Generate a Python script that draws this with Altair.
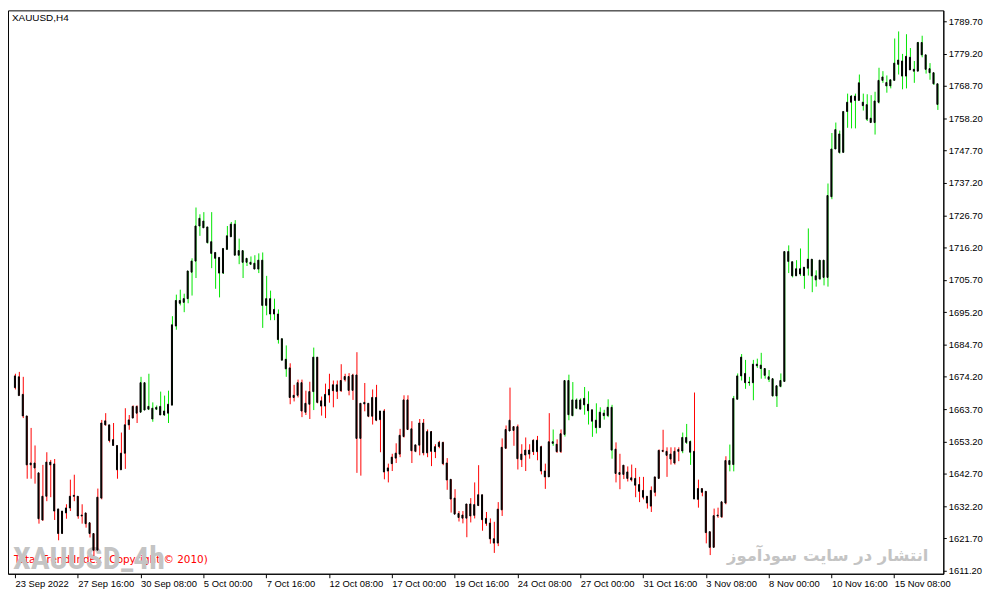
import json
import pandas as pd
import altair as alt

# ---------------- data ----------------
open_ = [1670.7,1674.2,1668.5,1661.5,1645.6,1646.2,1643.0,1627.7,1635.4,1646.5,
1645.9,1631.3,1623.3,1630.0,1631.6,1635.4,1635.4,1629.0,1630.0,1626.8,
1623.3,1617.9,1634.8,1658.6,1658.6,1653.8,1651.9,1644.0,1649.4,1658.6,
1660.8,1664.6,1662.7,1672.3,1663.7,1664.0,1663.7,1664.6,1661.8,1662.4,
1665.0,1690.7,1699.0,1698.4,1699.6,1708.2,1711.8,1723.2,1724.8,1722.9,
1718.1,1714.6,1713.0,1707.9,1715.6,1719.7,1723.8,1713.7,1715.2,1711.4,
1711.4,1711.1,1709.2,1712.1,1697.4,1699.6,1694.6,1694.6,1686.6,1679.9,
1677.1,1667.5,1668.2,1672.3,1662.7,1665.3,1669.4,1680.6,1666.4,1664.7,
1668.3,1669.7,1671.6,1669.7,1673.3,1674.3,1669.8,1674.8,1654.2,1665.4,
1665.6,1661.4,1667.5,1660.3,1663.1,1643.6,1646.0,1647.8,1649.1,1654.8,
1666.7,1657.3,1650.0,1652.0,1659.2,1649.5,1656.4,1649.9,1651.6,1652.9,
1646.2,1640.9,1634.8,1629.8,1628.3,1628.3,1632.9,1629.2,1632.4,1635.9,
1628.2,1626.7,1621.6,1620.2,1631.0,1651.0,1656.6,1658.0,1658.0,1647.3,
1648.8,1650.4,1649.9,1653.6,1651.5,1643.6,1641.7,1653.1,1652.3,1649.9,
1655.5,1673.0,1661.6,1666.7,1663.7,1667.2,1665.3,1663.5,1660.1,1657.7,
1662.4,1661.6,1664.3,1650.7,1643.1,1642.5,1643.3,1641.4,1641.2,1639.2,
1637.3,1635.4,1632.2,1636.7,1641.2,1650.3,1650.0,1649.1,1646.2,1650.0,
1650.1,1654.5,1653.2,1650.0,1634.4,1637.9,1637.0,1623.9,1618.8,1629.0,
1628.7,1633.2,1647.0,1645.7,1666.9,1674.5,1675.3,1672.3,1672.3,1678.3,
1678.0,1676.9,1674.2,1673.6,1668.0,1671.1,1672.7,1714.9,1711.6,1707.0,
1709.3,1707.1,1709.5,1712.4,1707.0,1706.0,1712.1,1706.5,1732.7,1748.2,
1753.1,1747.1,1760.4,1763.4,1765.4,1764.0,1763.4,1762.6,1758.2,1756.8,
1763.4,1770.5,1769.8,1768.7,1770.5,1775.7,1776.8,1771.9,1778.0,1773.5,
1773.5,1782.8,1778.8,1774.3,1773.0,1769.4]

high = [1675.2,1675.8,1674.2,1661.5,1657.6,1651.9,1643.0,1645.6,1649.7,1647.2,
1647.5,1631.3,1630.6,1632.8,1640.8,1642.4,1635.4,1632.8,1630.0,1626.8,
1623.3,1637.9,1660.2,1662.4,1658.6,1659.2,1651.9,1656.1,1664.0,1661.8,
1664.9,1664.9,1674.2,1672.3,1675.2,1665.9,1664.9,1669.4,1668.1,1669.7,
1693.9,1700.9,1702.5,1701.2,1708.6,1712.7,1729.2,1727.0,1727.7,1722.9,
1727.7,1714.6,1713.0,1715.9,1723.2,1724.5,1725.1,1719.1,1715.2,1712.7,
1713.3,1713.7,1714.3,1714.6,1707.0,1702.2,1699.6,1696.1,1686.6,1684.4,
1678.6,1671.6,1673.3,1673.3,1669.7,1672.6,1683.7,1680.6,1667.8,1672.0,
1675.2,1673.0,1673.0,1678.3,1675.2,1675.4,1675.2,1682.2,1665.6,1672.2,
1665.6,1670.1,1671.6,1663.1,1663.7,1646.0,1649.2,1652.6,1657.3,1668.2,
1668.2,1659.8,1652.1,1660.5,1660.5,1657.1,1656.6,1652.3,1653.4,1653.1,
1647.8,1640.9,1637.7,1630.6,1630.6,1632.9,1634.8,1639.9,1645.5,1635.9,
1630.3,1628.2,1627.1,1633.5,1654.2,1658.4,1670.7,1658.2,1658.7,1652.3,
1654.5,1652.3,1653.9,1655.0,1651.8,1646.0,1662.4,1657.1,1653.9,1657.1,
1673.0,1674.9,1672.5,1667.2,1667.2,1670.9,1669.5,1663.5,1665.6,1664.3,
1663.5,1666.9,1665.1,1652.9,1649.2,1645.5,1645.1,1645.7,1644.6,1641.7,
1641.7,1635.4,1638.6,1641.7,1650.6,1657.0,1651.3,1651.3,1651.3,1651.3,
1656.1,1658.9,1653.5,1669.1,1640.8,1637.9,1637.0,1623.9,1631.4,1631.7,
1633.6,1648.4,1652.2,1668.0,1675.3,1681.6,1679.7,1674.2,1679.7,1680.1,
1682.0,1676.9,1676.4,1673.6,1671.3,1675.3,1714.9,1716.9,1711.6,1712.1,
1715.9,1709.8,1722.4,1712.4,1708.8,1712.1,1712.1,1737.0,1753.4,1756.8,
1754.2,1760.4,1766.2,1765.7,1766.2,1772.4,1766.2,1766.0,1765.7,1766.8,
1774.6,1773.5,1772.1,1770.7,1784.1,1786.4,1779.1,1785.5,1781.0,1776.8,
1783.0,1785.0,1778.8,1776.1,1773.0,1769.4]

low = [1670.1,1668.1,1660.8,1641.1,1641.1,1639.5,1626.5,1627.4,1633.8,1635.1,
1627.7,1621.1,1623.3,1628.1,1630.6,1633.8,1628.1,1626.5,1625.2,1622.0,
1616.0,1617.9,1634.4,1658.3,1652.9,1651.9,1641.1,1644.0,1644.3,1657.0,
1660.8,1659.2,1662.7,1663.4,1663.4,1659.6,1663.4,1661.8,1661.5,1659.2,
1665.0,1689.5,1697.4,1695.2,1698.1,1700.6,1706.3,1720.0,1722.6,1717.5,
1709.5,1702.8,1700.0,1707.6,1715.6,1719.7,1713.7,1710.8,1706.3,1710.2,
1710.5,1709.2,1707.9,1690.1,1694.2,1692.6,1692.6,1685.0,1679.6,1674.2,
1665.3,1666.2,1667.5,1661.1,1661.8,1660.5,1663.4,1665.6,1661.6,1660.8,
1665.8,1664.3,1667.0,1669.3,1672.7,1668.2,1666.7,1643.0,1642.1,1663.0,
1661.1,1658.7,1659.8,1649.7,1640.9,1639.9,1643.6,1646.2,1648.1,1654.5,
1656.9,1646.2,1649.7,1648.7,1648.7,1648.1,1645.2,1647.8,1651.0,1645.5,
1637.5,1630.1,1629.6,1627.2,1626.6,1622.1,1626.9,1628.2,1632.2,1624.2,
1625.8,1620.0,1617.0,1619.2,1629.0,1650.8,1656.6,1651.8,1644.1,1644.9,
1643.6,1647.6,1648.8,1647.1,1642.5,1637.8,1641.7,1651.8,1649.5,1649.5,
1654.8,1660.1,1661.4,1663.7,1663.7,1661.9,1658.7,1654.7,1655.8,1657.7,
1660.3,1661.1,1647.6,1639.9,1637.7,1641.0,1640.2,1640.2,1635.1,1633.5,
1634.4,1631.4,1630.3,1635.4,1641.2,1649.7,1641.7,1645.7,1645.7,1646.8,
1649.4,1652.4,1645.6,1634.5,1631.7,1635.4,1620.1,1616.3,1618.8,1628.4,
1628.4,1632.8,1643.5,1643.5,1666.9,1673.0,1670.3,1671.3,1666.6,1677.1,
1673.6,1673.6,1672.5,1667.8,1664.4,1670.8,1672.7,1707.9,1706.5,1707.0,
1707.0,1702.8,1707.1,1701.7,1703.5,1705.7,1703.9,1703.5,1731.9,1748.2,
1746.7,1747.1,1755.1,1754.9,1754.9,1764.0,1760.7,1757.3,1756.8,1752.9,
1763.0,1769.7,1766.5,1767.9,1770.5,1772.4,1767.6,1767.9,1773.9,1769.7,
1773.5,1778.0,1772.7,1770.7,1769.0,1760.9]

close = [1674.5,1668.1,1661.5,1645.6,1646.2,1644.6,1628.1,1635.4,1646.5,1645.6,
1630.6,1623.3,1630.6,1631.6,1635.4,1635.7,1629.0,1629.3,1626.5,1623.3,
1617.9,1635.1,1659.2,1659.9,1653.5,1651.9,1644.0,1649.4,1658.6,1660.2,
1664.6,1662.4,1672.3,1663.4,1664.6,1660.5,1664.3,1661.8,1663.1,1665.3,
1691.1,1699.0,1698.1,1699.6,1708.6,1711.8,1723.2,1725.7,1722.6,1717.8,
1714.3,1712.7,1707.9,1715.9,1720.0,1723.8,1713.7,1715.2,1711.4,1712.7,
1710.8,1709.2,1712.1,1697.4,1699.6,1694.6,1696.1,1686.3,1679.6,1676.8,
1667.5,1668.2,1672.3,1663.1,1665.6,1669.4,1680.6,1665.9,1664.7,1668.5,
1670.1,1671.6,1669.5,1673.0,1674.3,1669.8,1674.8,1654.2,1665.6,1665.9,
1661.4,1667.5,1660.1,1663.1,1643.3,1644.6,1648.1,1649.4,1655.2,1666.7,
1657.1,1650.2,1652.1,1659.2,1649.5,1656.4,1650.0,1651.5,1652.9,1646.0,
1640.7,1634.5,1629.6,1628.5,1629.3,1632.9,1629.0,1632.7,1635.9,1627.8,
1626.6,1621.6,1620.2,1631.2,1651.3,1657.1,1660.1,1656.8,1647.6,1649.1,
1650.4,1649.1,1653.6,1649.9,1643.6,1641.7,1653.1,1652.6,1649.9,1655.7,
1673.0,1661.9,1666.7,1664.0,1666.7,1665.1,1663.2,1659.8,1657.7,1662.7,
1661.6,1664.3,1650.4,1642.8,1642.5,1645.5,1641.2,1640.7,1639.0,1637.0,
1635.1,1633.2,1637.3,1641.7,1650.3,1650.0,1648.7,1647.5,1650.0,1650.6,
1654.5,1652.9,1649.7,1634.5,1637.9,1636.7,1623.6,1618.8,1629.1,1629.3,
1633.6,1647.0,1645.7,1667.2,1674.5,1680.6,1672.3,1672.5,1678.3,1677.8,
1676.9,1674.7,1673.4,1668.0,1671.3,1673.0,1714.9,1711.7,1707.0,1709.3,
1707.6,1709.8,1712.4,1707.0,1705.7,1712.1,1706.5,1733.1,1748.2,1754.5,
1747.1,1760.4,1763.4,1765.4,1764.0,1769.7,1762.3,1757.9,1756.8,1763.8,
1770.5,1771.6,1768.7,1770.7,1776.1,1777.1,1771.9,1778.3,1773.9,1774.1,
1782.8,1778.8,1774.1,1773.0,1769.4,1762.7]

# indicator colouring of the wicks: runs of (trend, number of bars)
trend_runs = [("down", 32), ("up", 38), ("down", 6), ("up", 1), ("down", 60),
              ("up", 1), ("down", 2), ("up", 13), ("down", 17), ("up", 3),
              ("down", 9), ("up", 54)]

date_tick_bars = [0, 16, 32, 48, 64, 80, 96, 112, 128, 144, 160, 176, 192, 208, 224]
date_labels = ["23 Sep 2022", "27 Sep 16:00", "30 Sep 08:00", "5 Oct 00:00",
               "7 Oct 16:00", "12 Oct 08:00", "17 Oct 00:00", "19 Oct 16:00",
               "24 Oct 08:00", "27 Oct 00:00", "31 Oct 16:00", "3 Nov 08:00",
               "8 Nov 00:00", "10 Nov 16:00", "15 Nov 08:00"]
price_ticks = [1611.2, 1621.7, 1632.2, 1642.7, 1653.2, 1663.7, 1674.2, 1684.7,
               1695.2, 1705.7, 1716.2, 1726.7, 1737.2, 1747.7, 1758.2, 1768.7,
               1779.2, 1789.7]

symbol_text = ["XAUUSD,H4"]
watermark_text = ["XAUUSD_4h"]
indicator_text = ["Total Trend Index (Copyright © 2010)"]
persian_text = ["انتشار در سایت سودآموز"]

# ---------------- build ----------------
trend = []
for t, n in trend_runs:
    trend += [t] * n

df = pd.DataFrame({"i": list(range(len(open_))), "open": open_, "high": high,
                   "low": low, "close": close, "trend": trend})

W, H = 943, 568
FONT = "Liberation Sans"
# 4 px per bar, bar 0 centred 2 px from the left frame
xscale = alt.Scale(domain=[-0.5, -0.5 + W / 4.0], nice=False, zero=False)
yscale = alt.Scale(domain=[1610.23, 1793.24], nice=False, zero=False)

label_expr = json.dumps(date_labels) + "[round(datum.value / 16)]"


def x_axis():
    return alt.Axis(values=date_tick_bars, labelExpr=label_expr, orient="bottom",
                    grid=False, tickSize=4, tickColor="black", domainColor="black",
                    labelAlign="left", labelBaseline="top", labelPadding=1,
                    labelFont=FONT, labelFontSize=9.5, labelColor="black",
                    labelOverlap=False, labelFlush=False, title="")


def y_axis():
    return alt.Axis(values=price_ticks, format=".2f", orient="right", grid=False,
                    tickSize=3, tickColor="black", domainColor="black",
                    labelPadding=2, labelFont=FONT, labelFontSize=9.5,
                    labelColor="black", labelOverlap=False, labelFlush=False,
                    labelBound=False, title="")


base = alt.Chart(df)

wicks = base.mark_rule(strokeWidth=1, xOffset=0.5).encode(
    x=alt.X("i:Q", scale=xscale, axis=x_axis()),
    y=alt.Y("high:Q", scale=yscale, axis=y_axis()),
    y2="low:Q",
    color=alt.Color("trend:N", scale=alt.Scale(domain=["down", "up"],
                                               range=["#ff0000", "#00e600"]),
                    legend=None),
)

bodies = base.mark_bar(size=1, fill="black", stroke="black", strokeWidth=1).encode(
    x=alt.X("i:Q", scale=xscale, axis=x_axis()),
    y=alt.Y("open:Q", scale=yscale, axis=y_axis()),
    y2="close:Q",
)

indicator = alt.Chart(pd.DataFrame({"t": indicator_text})).mark_text(
    align="left", baseline="alphabetic", font="DejaVu Sans", fontSize=10.5,
    color="#ff0000").encode(text="t:N", x=alt.value(6), y=alt.value(557))

watermark = alt.Chart(pd.DataFrame({"t": watermark_text})).mark_text(
    align="left", baseline="alphabetic",
    font="Liberation Sans Narrow, Roboto Condensed, DejaVu Sans Condensed",
    fontSize=32, fontWeight="bold", color="#c4c4c4").encode(
    text="t:N", x=alt.value(5), y=alt.value(563))

persian = alt.Chart(pd.DataFrame({"t": persian_text})).mark_text(
    align="right", baseline="alphabetic", font="DejaVu Sans", fontSize=16.5,
    fontWeight="bold", color="#c4c4c4").encode(
    text="t:N", x=alt.value(928), y=alt.value(555))

symbol = alt.Chart(pd.DataFrame({"t": symbol_text})).mark_text(
    align="left", baseline="top", font=FONT, fontSize=10, color="black").encode(
    text="t:N", x=alt.value(4), y=alt.value(3))

chart = alt.layer(indicator, watermark, persian, wicks, bodies, symbol).properties(
    width=W, height=H,
    autosize=alt.AutoSizeParams(type="none"),
    padding={"left": 0, "top": 0, "right": 40, "bottom": 16},
    background="white",
).configure_view(stroke="black", strokeWidth=1)

chart.save("out.html", embed_options={"renderer": "svg", "actions": False})
